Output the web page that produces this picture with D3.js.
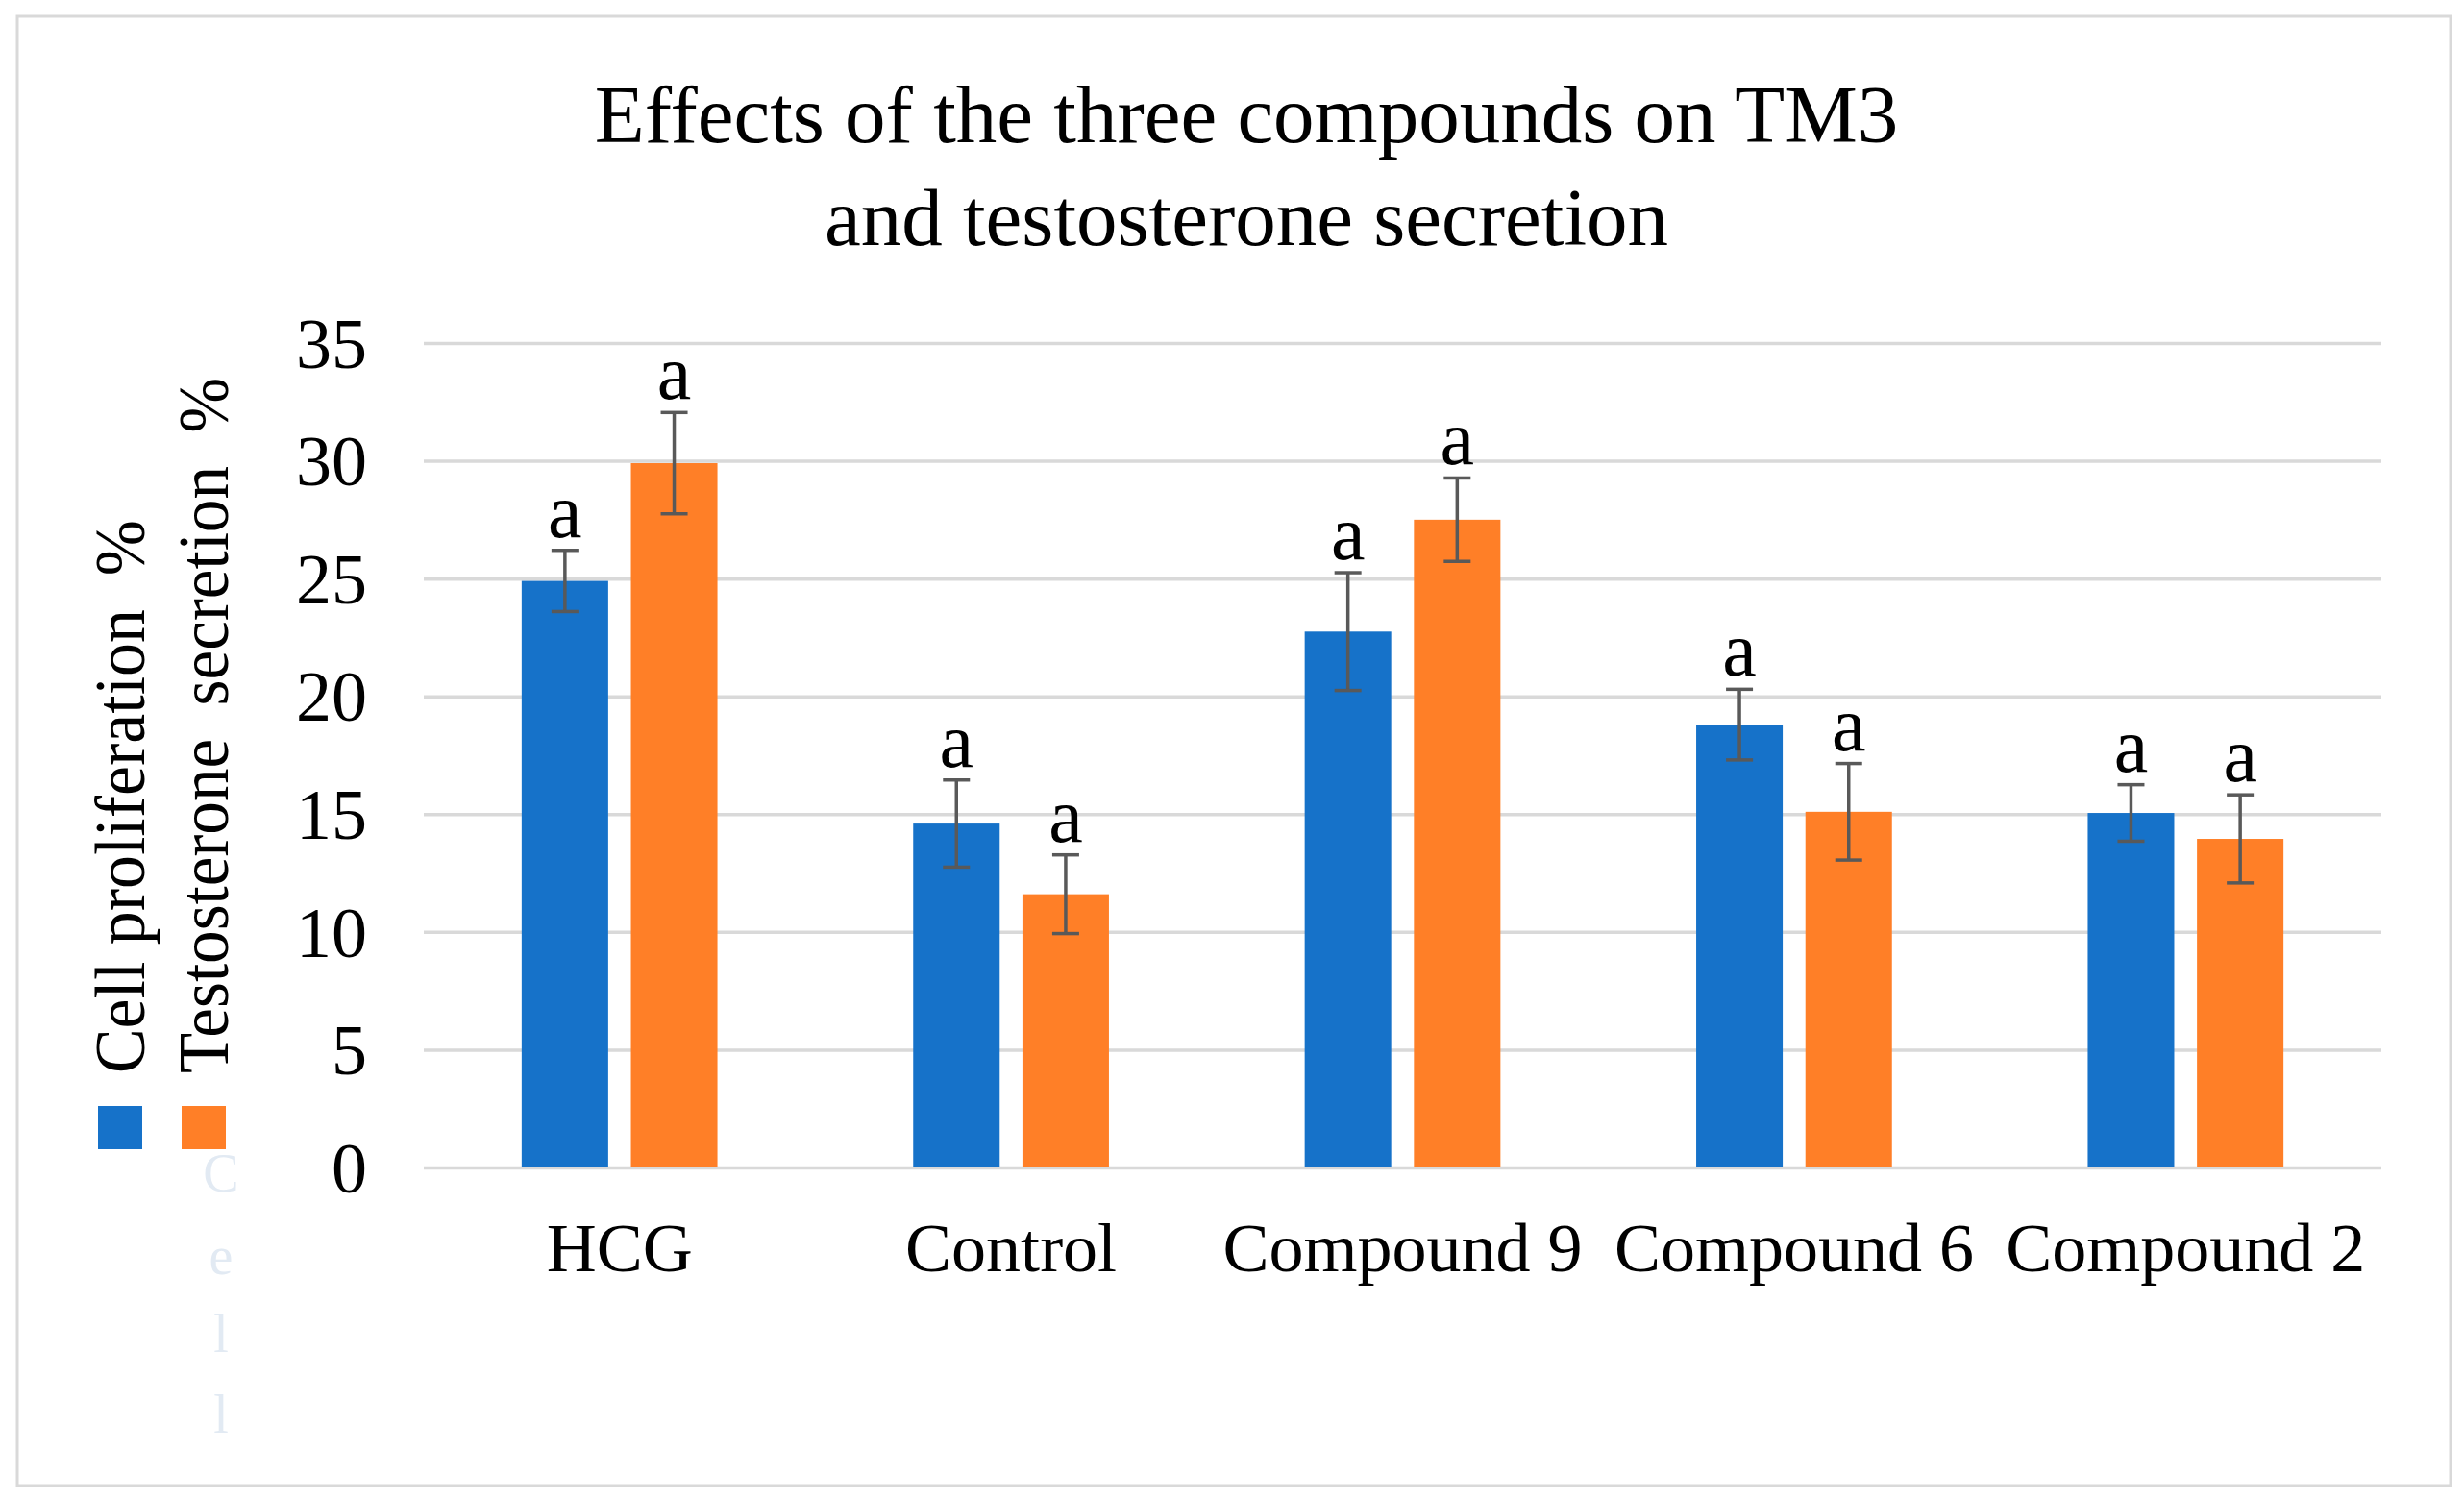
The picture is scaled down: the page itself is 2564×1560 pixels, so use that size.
<!DOCTYPE html>
<html lang="en">
<head>
    <meta charset="UTF-8">
    <title>Effects of the three compounds on TM3 and testosterone secretion</title>
    <style>
        html, body {
            margin: 0;
            padding: 0;
            background-color: #ffffff;
        }
        svg text {
            font-family: 'Liberation Serif', 'Times New Roman', serif;
            fill: #000000;
        }
    </style>
</head>
<body>
    <div id="chart"></div>
    <script src="https://d3js.org/d3.v7.min.js"></script>
    <script>
        // DATA
        const categories = ["HCG", "Control", "Compound 9", "Compound 6", "Compound 2"];
        const seriesNames = ["Cell proliferation  %", "Testosterone  secretion  %"];
        const seriesColours = ["#1672C9", "#FF7F27"];
        const cellValues = [24.9, 14.6, 22.75, 18.8, 15.05];
        const cellErrors = [1.3, 1.85, 2.5, 1.5, 1.2];
        const testoValues = [29.9, 11.6, 27.5, 15.1, 13.95];
        const testoErrors = [2.15, 1.67, 1.77, 2.05, 1.87];
        const cellLetters = ["a", "a", "a", "a", "a"];
        const testoLetters = ["a", "a", "a", "a", "a"];
        const yTicks = [0, 5, 10, 15, 20, 25, 30, 35];
        const titleLines = ["Effects of the three compounds on TM3", "and testosterone secretion"];

        const width = 2564;
        const height = 1560;
        const plot = {left: 441, right: 2478, top: 357, bottom: 1215};

        const svg = d3.select("#chart")
            .append("svg")
            .attr("width", width)
            .attr("height", height);

        // CHART BORDER
        svg.append("rect")
            .attr("x", 18)
            .attr("y", 17)
            .attr("width", 2532)
            .attr("height", 1529)
            .style("fill", "#ffffff")
            .style("stroke", "#d9d9d9")
            .style("stroke-width", 3);

        // TITLE
        svg.append("text")
            .attr("text-anchor", "middle")
            .style("font-size", "85px")
            .selectAll("tspan")
            .data(titleLines).enter()
            .append("tspan")
            .attr("x", 1297)
            .attr("y", (d, i) => 148 + i * 107)
            .text(d => d);

        // SCALES
        const x0 = d3.scaleBand()
            .domain(categories)
            .range([plot.left, plot.right])
            .paddingInner(0.5)
            .paddingOuter(0.25);

        const x1 = d3.scaleBand()
            .domain([0, 1])
            .range([0, x0.bandwidth()])
            .paddingInner(0.208);

        const y = d3.scaleLinear()
            .domain([0, 35])
            .range([plot.bottom, plot.top]);

        // GRID + Y LABELS
        const yAxis = d3.axisLeft(y)
            .tickValues(yTicks)
            .tickSize(-(plot.right - plot.left))
            .tickPadding(59);

        const yg = svg.append("g")
            .attr("transform", `translate(${plot.left},0)`)
            .call(yAxis);
        yg.select(".domain").remove();
        yg.selectAll("line")
            .style("stroke", "#d9d9d9")
            .style("stroke-width", 3.5);
        yg.selectAll("text")
            .style("font-size", "74px")
            .attr("font-family", null)
            .attr("dy", "0.34em");

        // X LABELS
        const xg = svg.append("g")
            .attr("transform", `translate(0,${plot.bottom})`)
            .call(d3.axisBottom(x0).tickSize(0));
        xg.select(".domain").remove();
        xg.selectAll("text")
            .style("font-size", "72px")
            .attr("y", 108)
            .attr("dy", null);

        // BARS
        const series = [
            {values: cellValues, errors: cellErrors, letters: cellLetters},
            {values: testoValues, errors: testoErrors, letters: testoLetters}
        ];

        series.forEach((s, si) => {
            const g = svg.append("g");
            const rows = categories.map((c, i) => ({
                cat: c, v: s.values[i], e: s.errors[i], l: s.letters[i]
            }));
            const cx = d => x0(d.cat) + x1(si) + x1.bandwidth() / 2;

            g.selectAll("rect")
                .data(rows).enter()
                .append("rect")
                .attr("x", d => x0(d.cat) + x1(si))
                .attr("y", d => y(d.v))
                .attr("width", x1.bandwidth())
                .attr("height", d => y(0) - y(d.v))
                .style("fill", seriesColours[si]);

            // error bars
            const eb = g.selectAll(".err")
                .data(rows).enter()
                .append("g")
                .attr("class", "err")
                .style("stroke", "#595959")
                .style("stroke-width", 3.5);
            eb.append("line")
                .attr("x1", cx).attr("x2", cx)
                .attr("y1", d => y(d.v + d.e))
                .attr("y2", d => y(d.v - d.e));
            eb.append("line")
                .attr("x1", d => cx(d) - 14).attr("x2", d => cx(d) + 14)
                .attr("y1", d => y(d.v + d.e))
                .attr("y2", d => y(d.v + d.e));
            eb.append("line")
                .attr("x1", d => cx(d) - 14).attr("x2", d => cx(d) + 14)
                .attr("y1", d => y(d.v - d.e))
                .attr("y2", d => y(d.v - d.e));

            // significance letters
            g.selectAll(".sig")
                .data(rows).enter()
                .append("text")
                .attr("class", "sig")
                .attr("x", cx)
                .attr("y", d => y(d.v + d.e) - 14)
                .attr("text-anchor", "middle")
                .style("font-size", "80px")
                .text(d => d.l);
        });

        // LEGEND (rotated, left side)
        const legendX = [102, 189];
        const legendLen = [576, 724];

        svg.selectAll(".legend-box")
            .data(seriesColours).enter()
            .append("rect")
            .attr("class", "legend-box")
            .attr("x", (d, i) => legendX[i])
            .attr("y", 1151)
            .attr("width", 46)
            .attr("height", 45)
            .style("fill", d => d);

        svg.selectAll(".legend-text")
            .data(seriesNames).enter()
            .append("text")
            .attr("class", "legend-text")
            .attr("transform", (d, i) => `translate(${legendX[i] + 48},1117) rotate(-90)`)
            .attr("textLength", (d, i) => legendLen[i])
            .attr("lengthAdjust", "spacingAndGlyphs")
            .style("font-size", "74px")
            .style("white-space", "pre")
            .text(d => d);

        // faint ghost letters left in the original picture
        const ghost = ["C", "e", "l", "l"];
        svg.selectAll(".ghost")
            .data(ghost).enter()
            .append("text")
            .attr("class", "ghost")
            .attr("x", 230)
            .attr("y", (d, i) => [1240, 1326, 1407, 1491][i])
            .attr("text-anchor", "middle")
            .style("font-size", "56px")
            .style("fill", "#e2eaf3")
            .text(d => d);
    </script>
</body>
</html>
